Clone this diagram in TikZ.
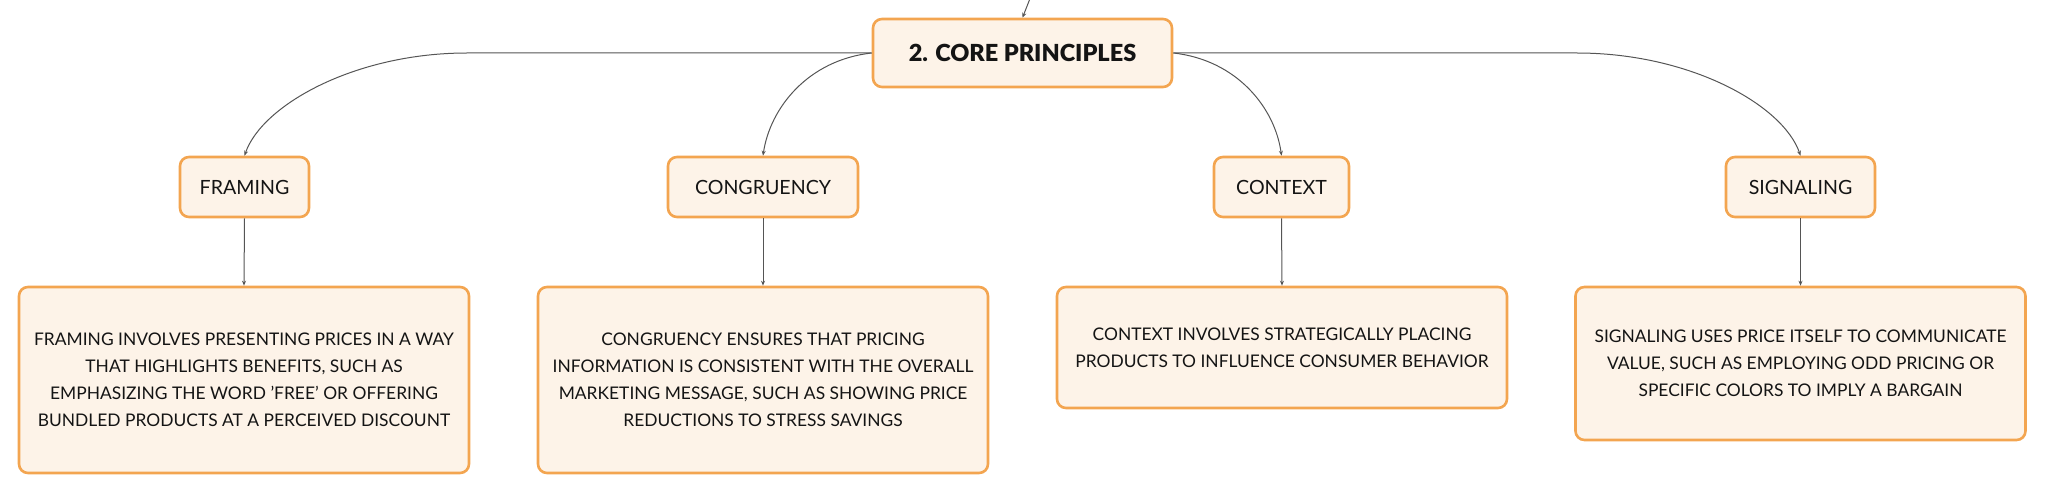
\documentclass[tikz,border=0pt]{standalone}
\usepackage{fontspec}
\setmainfont{Lato}
\newfontfamily\heavyfont{Lato Black}
\usetikzlibrary{arrows.meta}
\definecolor{boxfill}{HTML}{FDF3E8}
\definecolor{boxdraw}{HTML}{F3A550}
\definecolor{linkcol}{HTML}{555555}
\definecolor{txt}{HTML}{141414}
\begin{document}
\begin{tikzpicture}[x=1pt,y=-1pt,
  box/.style={draw=boxdraw, fill=boxfill, line width=2.6pt, rounded corners=9pt,
    align=center, inner sep=0pt, text=txt},
  mainbox/.style={box, minimum width=299pt, minimum height=68pt,
    font=\fontsize{23.5}{28}\heavyfont},
  topic/.style={box, minimum height=60pt, font=\fontsize{19.6}{24}\selectfont},
  descbox/.style={box, minimum width=450pt, font=\fontsize{17.4}{27}\selectfont},
  conn/.style={draw=linkcol, line width=1pt, -{Stealth[length=5pt,width=4pt]}}]
\useasboundingbox (0,0) rectangle (2046,494);
\begin{scope}
\clip (0,0) rectangle (2046,494);
% main
\node[mainbox] (main) at (1022.5,53) {2. CORE PRINCIPLES};
% topics
\node[topic, minimum width=129pt] (framing) at (244.5,187) {FRAMING};
\node[topic, minimum width=190pt] (congr) at (763,187) {CONGRUENCY};
\node[topic, minimum width=135pt] (context) at (1281.5,187) {CONTEXT};
\node[topic, minimum width=149pt] (signal) at (1800.5,187) {SIGNALING};
% descriptions
\node[descbox, minimum height=186pt] (dframing) at (244,380)
  {FRAMING INVOLVES PRESENTING PRICES IN A WAY\\THAT HIGHLIGHTS BENEFITS, SUCH AS\\EMPHASIZING THE WORD \char39 FREE\char39{} OR OFFERING\\BUNDLED PRODUCTS AT A PERCEIVED DISCOUNT};
\node[descbox, minimum height=186pt] (dcongr) at (763,380)
  {CONGRUENCY ENSURES THAT PRICING\\INFORMATION IS CONSISTENT WITH THE OVERALL\\MARKETING MESSAGE, SUCH AS SHOWING PRICE\\REDUCTIONS TO STRESS SAVINGS};
\node[descbox, minimum height=121pt] (dcontext) at (1282,347.5)
  {CONTEXT INVOLVES STRATEGICALLY PLACING\\PRODUCTS TO INFLUENCE CONSUMER BEHAVIOR};
\node[descbox, minimum height=153pt] (dsignal) at (1800.5,363.5)
  {SIGNALING USES PRICE ITSELF TO COMMUNICATE\\VALUE, SUCH AS EMPLOYING ODD PRICING OR\\SPECIFIC COLORS TO IMPLY A BARGAIN};
% connectors
\coordinate (parent) at (1031,-4);
\draw[conn] (parent) -- (main.north);
\coordinate (fbend) at (467,53);
\coordinate (sbend) at (1577,53);
\draw[conn] (main.west) -- (fbend) .. controls (355,53) and (262,105) .. (framing.north);
\draw[conn] (main.west) .. controls (808,60) and (770,108) .. (congr.north);
\draw[conn] (main.east) .. controls (1237,60) and (1275,108) .. (context.north);
\draw[conn] (main.east) -- (sbend) .. controls (1690,53) and (1783,105) .. (signal.north);
\draw[conn] (framing.south) -- (dframing.north);
\draw[conn] (congr.south) -- (dcongr.north);
\draw[conn] (context.south) -- (dcontext.north);
\draw[conn] (signal.south) -- (dsignal.north);
\end{scope}
\end{tikzpicture}
\end{document}
